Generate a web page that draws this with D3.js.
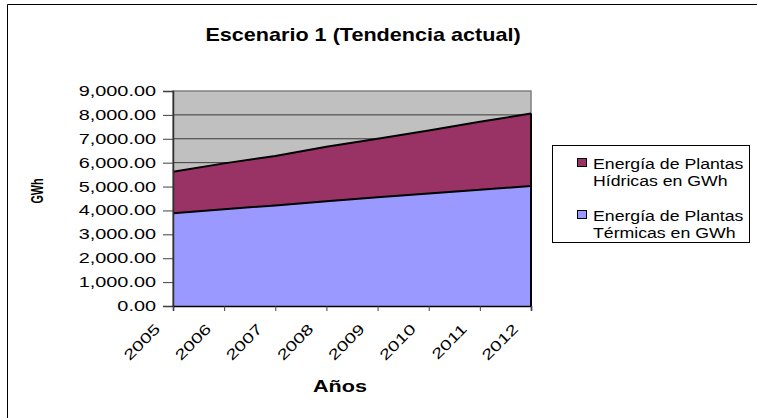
<!DOCTYPE html>
<html>
<head>
<meta charset="utf-8">
<title>Escenario 1 (Tendencia actual)</title>
<script src="https://cdn.jsdelivr.net/npm/d3@7"></script>
<style>
    body { margin: 0; background: #fff; }
    text { font-family: 'Liberation Sans', Arial, sans-serif; fill: #000; }
</style>
</head>
<body>
<script>
let years = ['2005', '2006', '2007', '2008', '2009', '2010', '2011', '2012']
let termicas = [3880, 4050, 4210, 4380, 4550, 4710, 4870, 5020]
let hidricas = [1740, 1920, 2070, 2290, 2450, 2640, 2840, 3040]
let yTicks = [0, 1000, 2000, 3000, 4000, 5000, 6000, 7000, 8000, 9000]
let seriesNames = ['Energía de Plantas Térmicas en GWh', 'Energía de Plantas Hídricas en GWh']

let page_title = 'Escenario 1 (Tendencia actual)'

let width = 757
let height = 418
let plot = {left: 173, right: 531, top: 91, bottom: 306}

let svg = d3.select('body').append('svg')
    .attr('width', width)
    .attr('height', height)

// outer chart frame (only top and left edges show in the crop)
svg.append('path')
    .attr('d', 'M7.5,' + height + 'V4.5H' + width)
    .style('fill', 'none')
    .style('stroke', '#000')

let rows = years.map((y, i) => ({year: y, termicas: termicas[i], hidricas: hidricas[i]}))
let stacked = d3.stack().keys(['termicas', 'hidricas'])(rows)

let xScale = d3.scalePoint()
    .domain(years)
    .range([plot.left, plot.right])

let yScale = d3.scaleLinear()
    .domain([0, 9000])
    .range([plot.bottom, plot.top])

// text drawn a bit wide, the way the original renders it
function label(g, x, y, str, sx, extra) {
    return g.append('text')
        .attr('transform', 'translate(' + x + ',' + y + ')' + (extra || '') + ' scale(' + sx + ',1)')
        .text(str)
}

svg.append('rect')
    .attr('x', plot.left)
    .attr('y', plot.top)
    .attr('width', plot.right - plot.left)
    .attr('height', plot.bottom - plot.top)
    .style('fill', '#c0c0c0')
    .style('stroke', '#808080')
    .style('stroke-width', 1.5)

svg.append('g')
    .selectAll('line')
    .data(yTicks.slice(1, -1))
    .join('line')
    .attr('x1', plot.left)
    .attr('x2', plot.right)
    .attr('y1', d => yScale(d))
    .attr('y2', d => yScale(d))
    .style('stroke', '#3a3a3a')
    .style('stroke-width', 1)

let area = d3.area()
    .x(d => xScale(d.data.year))
    .y0(d => yScale(d[0]))
    .y1(d => yScale(d[1]))

let colors = ['#9999ff', '#993366']

svg.append('g')
    .selectAll('path')
    .data(stacked)
    .join('path')
    .attr('d', area)
    .style('fill', (d, i) => colors[i])

let topLine = d3.line()
    .x(d => xScale(d.data.year))
    .y(d => yScale(d[1]))

svg.append('g')
    .selectAll('path')
    .data(stacked)
    .join('path')
    .attr('d', topLine)
    .style('fill', 'none')
    .style('stroke', '#000')
    .style('stroke-width', 2)

// right edge of the stacked areas
let last = stacked[stacked.length - 1][rows.length - 1]
svg.append('line')
    .attr('x1', xScale(last.data.year)).attr('x2', xScale(last.data.year))
    .attr('y1', yScale(0)).attr('y2', yScale(last[1]))
    .style('stroke', '#000')
    .style('stroke-width', 2)

let yAxis = d3.axisLeft(yScale)
    .tickValues(yTicks)
    .tickSize(10)
    .tickFormat(() => '')

let yAxisG = svg.append('g')
    .attr('transform', 'translate(' + plot.left + ',0)')
    .call(yAxis)
yAxisG.select('.domain').style('stroke', '#303030').style('stroke-width', 1.5)
yAxisG.selectAll('.tick line').style('stroke', '#404040')

let fmt = d3.format(',.2f')
yTicks.forEach(t => {
    label(svg, 156, yScale(t) + 5, fmt(t), 1.37)
        .attr('text-anchor', 'end')
        .style('font-size', '14.5px')
})

let xAxis = d3.axisBottom(xScale)
    .tickSize(5)
    .tickFormat(() => '')

let xAxisG = svg.append('g')
    .attr('transform', 'translate(0,' + plot.bottom + ')')
    .call(xAxis)
xAxisG.select('.domain').style('stroke', '#000').style('stroke-width', 1.5)
xAxisG.selectAll('.tick line').style('stroke', '#404040')

years.forEach(y => {
    label(svg, xScale(y) - 12, plot.bottom + 24, y, 1.37, ' rotate(-45)')
        .attr('text-anchor', 'end')
        .style('font-size', '14.5px')
})

label(svg, 363, 41, page_title, 1.2)
    .attr('text-anchor', 'middle')
    .style('font-size', '18px')
    .style('font-weight', 'bold')

label(svg, 340, 392, 'Años', 1.27)
    .attr('text-anchor', 'middle')
    .style('font-size', '17px')
    .style('font-weight', 'bold')

svg.append('text')
    .attr('transform', 'translate(43,191) rotate(-90) scale(0.72,1.15)')
    .attr('text-anchor', 'middle')
    .style('font-size', '15px')
    .style('font-weight', 'bold')
    .text('GWh')

// legend
let legend = svg.append('g')

legend.append('rect')
    .attr('x', 552.5)
    .attr('y', 145.5)
    .attr('width', 197)
    .attr('height', 97)
    .style('fill', '#fff')
    .style('stroke', '#000')

let legendItems = [
    {name: seriesNames[1], color: colors[1]},
    {name: seriesNames[0], color: colors[0]}
]

legendItems.forEach((item, i) => {
    let y0 = 158 + i * 52
    legend.append('rect')
        .attr('x', 577.5)
        .attr('y', y0 + 0.5)
        .attr('width', 9)
        .attr('height', 8)
        .style('fill', item.color)
        .style('stroke', '#000')
    let words = item.name.split(' ')
    let line1 = words.slice(0, 3).join(' ')
    let line2 = words.slice(3).join(' ')
    label(legend, 593, y0 + 11, line1, 1.18).style('font-size', '15px')
    label(legend, 593, y0 + 28, line2, 1.18).style('font-size', '15px')
})
</script>
</body>
</html>
